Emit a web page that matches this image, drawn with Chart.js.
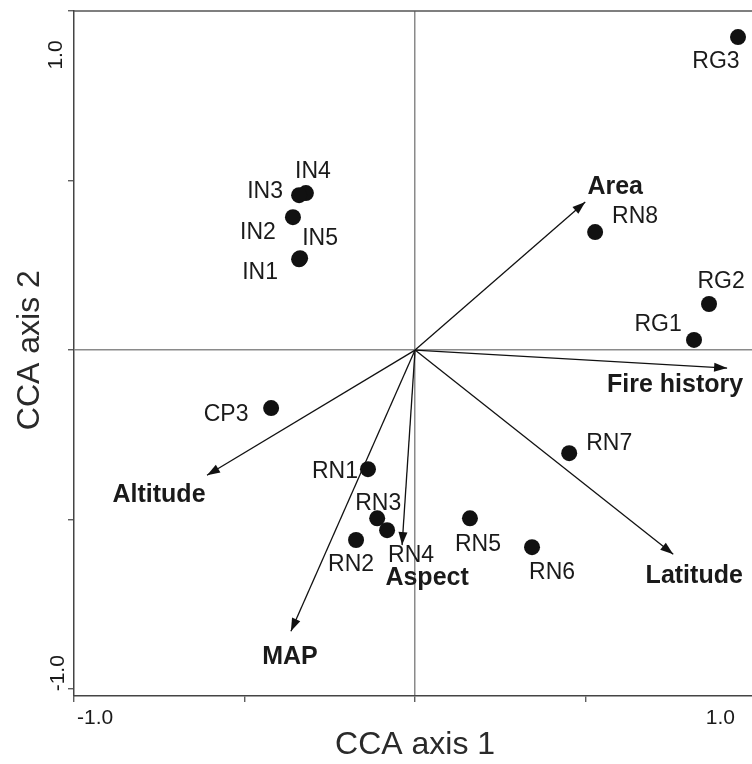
<!DOCTYPE html>
<html>
<head>
<meta charset="utf-8">
<script src="https://cdn.jsdelivr.net/npm/chart.js@4/dist/chart.umd.min.js"></script>
<style>
  html, body { margin: 0; padding: 0; background: #fff; }
  #wrap { width: 752px; height: 764px; }
</style>
</head>
<body>
<div id="wrap"><canvas id="cca" width="752" height="764"></canvas></div>
<script>
// Site scores on the first two CCA axes
const siteNames = ['RG3', 'IN4', 'IN3', 'IN2', 'IN5', 'IN1', 'RN8', 'RG2', 'RG1', 'RN7', 'RN5', 'RN6', 'CP3', 'RN1', 'RN3', 'RN4', 'RN2'];
const siteAxis1 = [0.947, -0.320, -0.340, -0.358, -0.337, -0.340, 0.528, 0.862, 0.818, 0.452, 0.161, 0.343, -0.422, -0.138, -0.111, -0.082, -0.173];
const siteAxis2 = [0.923, 0.463, 0.457, 0.392, 0.271, 0.268, 0.348, 0.136, 0.030, -0.304, -0.496, -0.581, -0.171, -0.351, -0.496, -0.531, -0.560];

// Environmental variable biplot arrows
const envNames = ['Area', 'Fire history', 'Latitude', 'Altitude', 'MAP', 'Aspect'];
const envAxis1 = [0.499, 0.915, 0.757, -0.610, -0.364, -0.038];
const envAxis2 = [0.437, -0.053, -0.602, -0.369, -0.829, -0.575];

// Axis ticks and the labelled ends
const axisTicks = [-1, -0.5, 0, 0.5, 1];
const endTickLabels = { '-1': '-1.0', '1': '1.0' };

// Label placement (pixels from the mark)
const siteLabelOffset = {
  RG3: [-22, 25], IN4: [7, -21], IN3: [-34, -3], IN2: [-35, 15], IN5: [20, -20], IN1: [-39, 13],
  RN8: [40, -15], RG2: [12, -22], RG1: [-36, -15], RN7: [40, -10], RN5: [8, 26], RN6: [20, 26],
  CP3: [-45, 7], RN1: [-33, 3], RN3: [1, -15], RN4: [24, 25], RN2: [-5, 25]
};
const envLabelOffset = {
  'Area': [30, -15], 'Fire history': [-52, 17], 'Latitude': [21, 22],
  'Altitude': [-48, 20], 'MAP': [-1, 26], 'Aspect': [25, 33]
};

const FONT = '"Liberation Sans", Arial, Helvetica, sans-serif';
const INK = '#1a1a1a';

const siteData = siteNames.map((n, i) => ({ x: siteAxis1[i], y: siteAxis2[i] }));
const arrowSets = envNames.map((n, i) => ({
  label: n,
  data: [{ x: 0, y: 0 }, { x: envAxis1[i], y: envAxis2[i] }],
  showLine: true,
  borderColor: '#111',
  borderWidth: 1.3,
  pointRadius: 0,
  fill: false,
  isArrow: true,
  order: 2
}));

const annotate = {
  id: 'annotate',
  afterDatasetsDraw(chart) {
    const ctx = chart.ctx;
    ctx.save();
    // arrowheads and variable names
    chart.data.datasets.forEach((ds, di) => {
      if (!ds.isArrow) return;
      const pts = chart.getDatasetMeta(di).data;
      const a = pts[0], b = pts[1];
      const ang = Math.atan2(b.y - a.y, b.x - a.x);
      const L = 13, W = 4.5;
      ctx.fillStyle = '#111';
      ctx.beginPath();
      ctx.moveTo(b.x, b.y);
      ctx.lineTo(b.x - L * Math.cos(ang) + W * Math.sin(ang), b.y - L * Math.sin(ang) - W * Math.cos(ang));
      ctx.lineTo(b.x - L * Math.cos(ang) - W * Math.sin(ang), b.y - L * Math.sin(ang) + W * Math.cos(ang));
      ctx.closePath();
      ctx.fill();
      const off = envLabelOffset[ds.label] || [0, 0];
      ctx.font = 'bold 25px ' + FONT;
      ctx.fillStyle = INK;
      ctx.textAlign = 'center';
      ctx.textBaseline = 'middle';
      ctx.fillText(ds.label, b.x + off[0], b.y + off[1]);
    });
    // site names
    const sitesMeta = chart.getDatasetMeta(0);
    ctx.font = '23px ' + FONT;
    ctx.fillStyle = INK;
    ctx.textAlign = 'center';
    ctx.textBaseline = 'middle';
    sitesMeta.data.forEach((p, i) => {
      const off = siteLabelOffset[siteNames[i]] || [0, 0];
      ctx.fillText(siteNames[i], p.x + off[0], p.y + off[1]);
    });
    ctx.restore();
  },
  afterDraw(chart) {
    const ctx = chart.ctx;
    const area = chart.chartArea;
    const xs = chart.scales.x, ys = chart.scales.y;
    ctx.save();
    // top frame line
    ctx.strokeStyle = '#555';
    ctx.lineWidth = 1.5;
    ctx.beginPath();
    ctx.moveTo(area.left, area.top);
    ctx.lineTo(area.right, area.top);
    ctx.stroke();
    // end tick labels, set inside the axis ends
    ctx.fillStyle = INK;
    ctx.font = '21px ' + FONT;
    ctx.textBaseline = 'middle';
    ctx.textAlign = 'left';
    ctx.fillText(endTickLabels['-1'], xs.getPixelForValue(-1) + 3, area.bottom + 22);
    ctx.textAlign = 'right';
    ctx.fillText(endTickLabels['1'], Math.min(xs.getPixelForValue(1), area.right) - 17, area.bottom + 22);
    ctx.textAlign = 'center';
    ctx.save();
    ctx.translate(area.left - 18, ys.getPixelForValue(1) + 44);
    ctx.rotate(-Math.PI / 2);
    ctx.fillText(endTickLabels['1'], 0, 0);
    ctx.restore();
    ctx.save();
    ctx.translate(area.left - 16, ys.getPixelForValue(-1) - 16);
    ctx.rotate(-Math.PI / 2);
    ctx.fillText(endTickLabels['-1'], 0, 0);
    ctx.restore();
    // axis titles
    ctx.fillStyle = '#2a2a2a';
    ctx.font = '32px ' + FONT;
    ctx.textAlign = 'center';
    ctx.fillText('CCA axis 1', xs.getPixelForValue(0), 745);
    ctx.save();
    ctx.translate(30, ys.getPixelForValue(0));
    ctx.rotate(-Math.PI / 2);
    ctx.fillText('CCA axis 2', 0, 0);
    ctx.restore();
    ctx.restore();
  }
};

const zeroGrid = (c) => (c.tick && c.tick.value === 0 ? '#8a8a8a' : 'rgba(0,0,0,0)');

new Chart(document.getElementById('cca'), {
  type: 'scatter',
  data: {
    datasets: [
      {
        label: 'Sites',
        data: siteData,
        pointRadius: 8,
        pointHoverRadius: 8,
        backgroundColor: '#111',
        borderWidth: 0,
        order: 1
      },
      ...arrowSets
    ]
  },
  options: {
    responsive: false,
    animation: false,
    layout: { autoPadding: false, padding: { top: 11, right: 0, left: 0, bottom: 0 } },
    plugins: { legend: { display: false }, tooltip: { enabled: false } },
    scales: {
      x: {
        type: 'linear',
        min: -1,
        max: 0.988,
        afterBuildTicks: (s) => { s.ticks = axisTicks.map(v => ({ value: v })); },
        afterFit: (s) => { s.height = 68; },
        ticks: { display: false },
        grid: { color: zeroGrid, lineWidth: 1.5, drawTicks: true, tickLength: 6, tickColor: '#444', tickWidth: 1.2 },
        border: { display: true, color: '#444', width: 1.5 }
      },
      y: {
        type: 'linear',
        min: -1.02,
        max: 1.0,
        afterBuildTicks: (s) => { s.ticks = axisTicks.map(v => ({ value: v })); },
        afterFit: (s) => { s.width = 74; },
        ticks: { display: false },
        grid: { color: zeroGrid, lineWidth: 1.5, drawTicks: true, tickLength: 6, tickColor: '#444', tickWidth: 1.2 },
        border: { display: true, color: '#444', width: 1.5 }
      }
    }
  },
  plugins: [annotate]
});
</script>
</body>
</html>
